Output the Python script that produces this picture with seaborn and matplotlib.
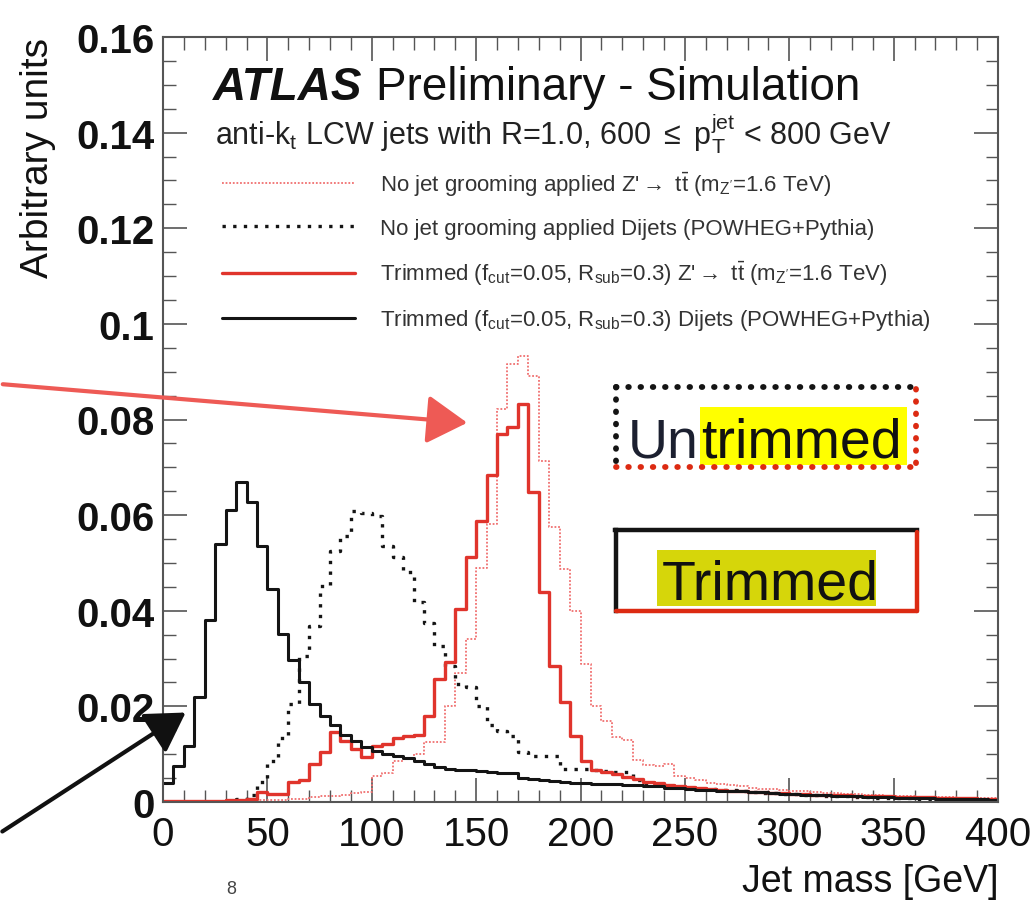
import numpy as np
import pandas as pd
import matplotlib
matplotlib.use("Agg")
import matplotlib.pyplot as plt
import seaborn as sns
from matplotlib.patches import Rectangle, FancyArrowPatch
from matplotlib.lines import Line2D
from matplotlib.ticker import MultipleLocator, FixedLocator

# ---------------- data (5 GeV bins, 0-400 GeV) ----------------
bin_edges = list(range(0, 405, 5))
bin_centers = [e + 2.5 for e in bin_edges[:-1]]

untrim_zprime = [
    0.0002, 0.0002, 0.0002, 0.0002, 0.0002, 0.0002, 0.0002, 0.0002, 0.0005, 0.0005,
    0.0005, 0.0005, 0.0006, 0.0006, 0.0010, 0.0012, 0.0012, 0.0015, 0.0018, 0.0020,
    0.0055, 0.0060, 0.0085, 0.0090, 0.0100, 0.0125, 0.0125, 0.0200, 0.0270, 0.0340,
    0.0490, 0.0581, 0.0822, 0.0916, 0.0933, 0.0892, 0.0714, 0.0575, 0.0487, 0.0400,
    0.0289, 0.0201, 0.0170, 0.0135, 0.0130, 0.0088, 0.0078, 0.0075, 0.0080, 0.0055,
    0.0050, 0.0045, 0.0040, 0.0038, 0.0036, 0.0034, 0.0030, 0.0028, 0.0027, 0.0026,
    0.0024, 0.0022, 0.0020, 0.0019, 0.0018, 0.0017, 0.0016, 0.0015, 0.0014, 0.0013,
    0.0012, 0.0012, 0.0011, 0.0011, 0.0010, 0.0010, 0.0009, 0.0009, 0.0008, 0.0008,
]

untrim_dijet = [
    0.0000, 0.0000, 0.0000, 0.0000, 0.0000, 0.0000, 0.0003, 0.0006, 0.0015, 0.0042,
    0.0086, 0.0134, 0.0205, 0.0306, 0.0369, 0.0452, 0.0526, 0.0557, 0.0609, 0.0604,
    0.0598, 0.0536, 0.0512, 0.0480, 0.0418, 0.0375, 0.0327, 0.0285, 0.0247, 0.0240,
    0.0200, 0.0160, 0.0149, 0.0139, 0.0105, 0.0097, 0.0097, 0.0097, 0.0070, 0.0069,
    0.0068, 0.0066, 0.0064, 0.0063, 0.0062, 0.0045, 0.0038, 0.0036, 0.0034, 0.0032,
    0.0030, 0.0028, 0.0027, 0.0026, 0.0025, 0.0022, 0.0020, 0.0019, 0.0018, 0.0017,
    0.0016, 0.0015, 0.0014, 0.0013, 0.0012, 0.0012, 0.0011, 0.0010, 0.0009, 0.0009,
    0.0008, 0.0008, 0.0007, 0.0007, 0.0007, 0.0006, 0.0006, 0.0006, 0.0005, 0.0005,
]

trim_zprime = [
    0.0002, 0.0002, 0.0002, 0.0002, 0.0002, 0.0003, 0.0004, 0.0004, 0.0006, 0.0020,
    0.0016, 0.0016, 0.0042, 0.0046, 0.0079, 0.0105, 0.0146, 0.0128, 0.0110, 0.0094,
    0.0118, 0.0122, 0.0133, 0.0138, 0.0140, 0.0180, 0.0257, 0.0293, 0.0404, 0.0512,
    0.0588, 0.0683, 0.0770, 0.0784, 0.0832, 0.0648, 0.0439, 0.0285, 0.0209, 0.0139,
    0.0086, 0.0066, 0.0062, 0.0058, 0.0052, 0.0048, 0.0042, 0.0040, 0.0036, 0.0034,
    0.0032, 0.0029, 0.0027, 0.0026, 0.0024, 0.0022, 0.0021, 0.0020, 0.0019, 0.0019,
    0.0016, 0.0016, 0.0015, 0.0015, 0.0014, 0.0014, 0.0013, 0.0013, 0.0012, 0.0012,
    0.0011, 0.0011, 0.0010, 0.0010, 0.0009, 0.0009, 0.0008, 0.0008, 0.0007, 0.0007,
]

trim_dijet = [
    0.0040, 0.0076, 0.0118, 0.0220, 0.0380, 0.0540, 0.0610, 0.0670, 0.0627, 0.0536,
    0.0445, 0.0351, 0.0296, 0.0250, 0.0205, 0.0180, 0.0160, 0.0140, 0.0128, 0.0114,
    0.0107, 0.0100, 0.0096, 0.0092, 0.0086, 0.0079, 0.0073, 0.0070, 0.0067, 0.0066,
    0.0064, 0.0062, 0.0061, 0.0060, 0.0050, 0.0048, 0.0046, 0.0044, 0.0041, 0.0040,
    0.0039, 0.0038, 0.0037, 0.0037, 0.0036, 0.0035, 0.0034, 0.0033, 0.0030, 0.0029,
    0.0027, 0.0026, 0.0025, 0.0024, 0.0023, 0.0022, 0.0021, 0.0020, 0.0018, 0.0017,
    0.0016, 0.0015, 0.0014, 0.0014, 0.0013, 0.0012, 0.0012, 0.0011, 0.0010, 0.0010,
    0.0009, 0.0009, 0.0008, 0.0008, 0.0007, 0.0007, 0.0006, 0.0006, 0.0006, 0.0005,
]

legend_labels = [
    r"No jet grooming applied Z'$\rightarrow$ t$\bar{\rm t}$ (m$_{\rm Z'}$=1.6 TeV)",
    "No jet grooming applied Dijets (POWHEG+Pythia)",
    r"Trimmed (f$_{\rm cut}$=0.05, R$_{\rm sub}$=0.3) Z'$\rightarrow$ t$\bar{\rm t}$ (m$_{\rm Z'}$=1.6 TeV)",
    r"Trimmed (f$_{\rm cut}$=0.05, R$_{\rm sub}$=0.3) Dijets (POWHEG+Pythia)",
]
x_ticks = [0, 50, 100, 150, 200, 250, 300, 350, 400]
y_ticks = [0, 0.02, 0.04, 0.06, 0.08, 0.10, 0.12, 0.14, 0.16]
y_tick_labels = ["0", "0.02", "0.04", "0.06", "0.08", "0.1", "0.12", "0.14", "0.16"]

# ---------------- style ----------------
sns.set_style("ticks")
FONT = "Liberation Sans"
plt.rcParams["font.family"] = [FONT, "DejaVu Sans"]
plt.rcParams["mathtext.fontset"] = "custom"
plt.rcParams["mathtext.rm"] = FONT
plt.rcParams["mathtext.it"] = FONT + ":italic"
plt.rcParams["mathtext.bf"] = FONT + ":bold"

W, H = 1030, 912
fig = plt.figure(figsize=(W / 100, H / 100), dpi=100)
fig.patch.set_facecolor("white")


def fx(px):
    return px / W


def fy(py):
    return 1 - py / H


ax = fig.add_axes([fx(163), fy(803), fx(998) - fx(163), fy(38) - fy(803)])
ax.set_facecolor("white")

RED = "#e0342c"
RED_LIGHT = "#f07070"
BLACK = "#141414"

series = [
    (untrim_zprime, dict(color=RED_LIGHT, linewidth=1.3, linestyle=(0, (1, 1)))),
    (untrim_dijet, dict(color=BLACK, linewidth=2.4, linestyle=(0, (1, 2.2)))),
    (trim_zprime, dict(color=RED, linewidth=2.4, linestyle="-")),
    (trim_dijet, dict(color=BLACK, linewidth=2.2, linestyle="-")),
]
for vals, kw in series:
    df = pd.DataFrame({"mass": bin_centers, "w": vals})
    sns.histplot(data=df, x="mass", weights="w", bins=bin_edges, element="step",
                 fill=False, ax=ax, **kw)

handles = list(ax.lines[:4])

ax.set_xlim(0, 400)
ax.set_ylim(0, 0.16)
ax.xaxis.set_major_locator(FixedLocator(x_ticks))
ax.xaxis.set_minor_locator(MultipleLocator(10))
ax.yaxis.set_major_locator(FixedLocator(y_ticks))
ax.set_yticklabels(y_tick_labels)
ax.yaxis.set_minor_locator(MultipleLocator(0.005))
ax.tick_params(which="both", direction="in", top=True, right=True, colors="#555555")
ax.tick_params(which="major", length=17, width=1.2)
ax.tick_params(which="minor", length=9, width=1.0)
ax.tick_params(axis="x", which="major", labelsize=29, pad=9, labelcolor="#111111")
ax.tick_params(axis="y", which="major", labelsize=29, pad=6, labelcolor="#111111")
for lab in ax.get_yticklabels():
    lab.set_fontweight("bold")
for sp in ax.spines.values():
    sp.set_color("#555555")
    sp.set_linewidth(1.5)

ax.set_xlabel("Jet mass [GeV]", fontsize=27, loc="right", color="#111111")
ax.xaxis.set_label_coords(1.0, -0.08)
ax.set_ylabel("Arbitrary units", fontsize=28, loc="top", color="#111111")
ax.yaxis.set_label_coords(-0.128, 1.0)

# ---------------- header texts ----------------
fig.text(fx(213), fy(100), "ATLAS", fontsize=33, fontweight="bold", fontstyle="italic",
         va="baseline", ha="left", color="#111111")
fig.text(fx(376), fy(100), "Preliminary - Simulation", fontsize=33,
         va="baseline", ha="left", color="#111111")
fig.text(fx(215), fy(146),
         r"anti-k$_{\rm t}$ LCW jets with R=1.0, 600 $\leq$ p$_{\rm T}^{\rm jet}$ < 800 GeV",
         fontsize=22, va="baseline", ha="left", color="#222222")

leg = ax.legend(handles, legend_labels, loc="upper left",
                bbox_to_anchor=(fx(222), fy(171)), bbox_transform=fig.transFigure,
                frameon=False, fontsize=16, handlelength=6.0, handletextpad=1.1,
                labelspacing=0.9, borderpad=0, borderaxespad=0)
for t in leg.get_texts():
    t.set_color("#333333")

# ---------------- annotation boxes ----------------
def seg(x0, y0, x1, y1, **kw):
    fig.add_artist(Line2D([fx(x0), fx(x1)], [fy(y0), fy(y1)], transform=fig.transFigure, **kw))

BOX_RED = "#dc2a12"
dot = dict(linewidth=4.2, linestyle=(0, (0.1, 2.0)), solid_capstyle="round",
           dash_capstyle="round")
# Untrimmed (dotted)
fig.add_artist(Rectangle((fx(700), fy(466)), fx(907) - fx(700), fy(408) - fy(466),
                         transform=fig.transFigure, facecolor="#ffff00", edgecolor="none"))
seg(616, 388, 914, 388, color=BLACK, **dot)
seg(616, 388, 616, 466, color=BLACK, **dot)
seg(616, 468, 916, 468, color=BOX_RED, **dot)
seg(916, 390, 916, 468, color=BOX_RED, **dot)
fig.text(fx(628), fy(458), "Un", fontsize=40, color="#1c2030", va="baseline", ha="left")
fig.text(fx(701), fy(458), "trimmed", fontsize=40, color="#111111", va="baseline", ha="left")

# Trimmed (solid)
fig.add_artist(Rectangle((fx(657), fy(607)), fx(876) - fx(657), fy(551) - fy(607),
                         transform=fig.transFigure, facecolor="#d6d60a", edgecolor="none"))
seg(615, 531, 917, 531, color=BLACK, linewidth=3.2, solid_capstyle="projecting")
seg(616, 531, 616, 612, color=BLACK, linewidth=3.2, solid_capstyle="projecting")
seg(616, 612, 917, 612, color=BOX_RED, linewidth=3.2, solid_capstyle="round")
seg(917, 533, 917, 612, color=BOX_RED, linewidth=3.2, solid_capstyle="round")
fig.text(fx(662), fy(600), "Trimmed", fontsize=40, color="#111111", va="baseline", ha="left")

# ---------------- arrows ----------------
fig.add_artist(FancyArrowPatch((fx(0), fy(385)), (fx(470), fy(424)), transform=fig.transFigure,
                               arrowstyle="-|>,head_length=1.25,head_width=0.75",
                               mutation_scale=20, color="#ee5a55", linewidth=3.0))
fig.add_artist(FancyArrowPatch((fx(0), fy(834)), (fx(188), fy(712)), transform=fig.transFigure,
                               arrowstyle="-|>,head_length=1.25,head_width=0.75",
                               mutation_scale=19, color="#111111", linewidth=3.0))

fig.text(fx(231), fy(890), "8", fontsize=13, color="#444444", ha="center", va="center")

fig.savefig("out.png", dpi=100)
